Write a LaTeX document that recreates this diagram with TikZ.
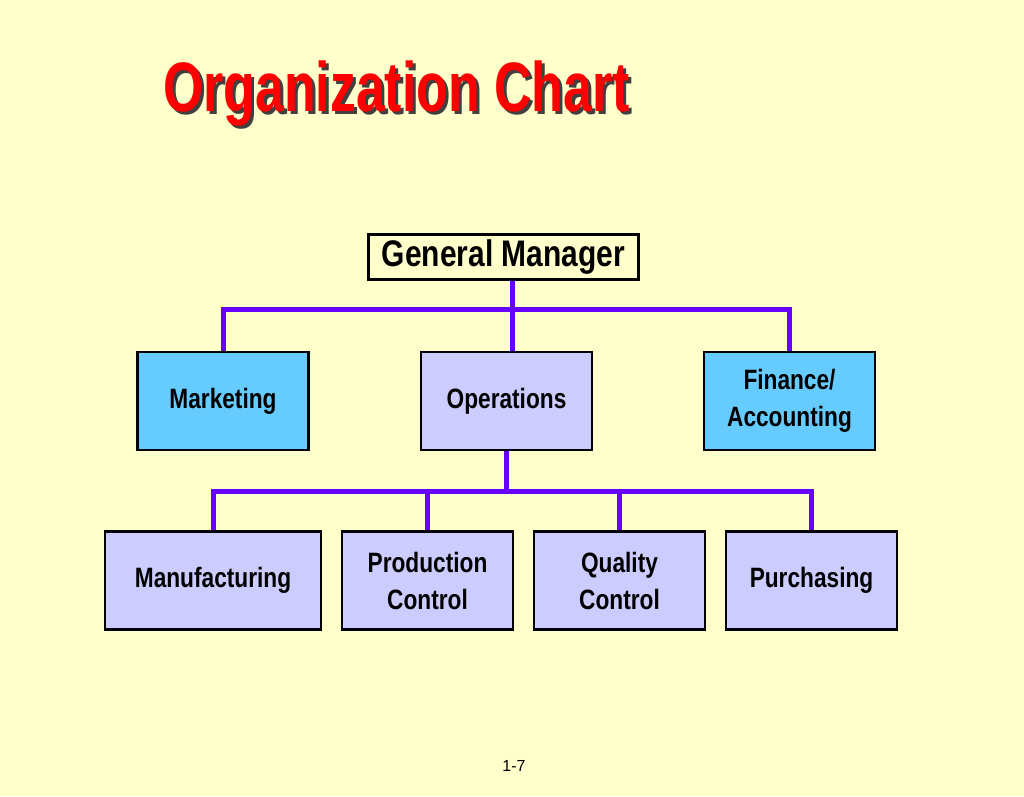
\documentclass[tikz,border=0pt]{standalone}
\usepackage{fontspec}
\setmainfont{Liberation Sans}
\newfontfamily\titlefont{Liberation Sans}[FakeStretch=0.74]
\newfontfamily\narrowfont{Liberation Sans}[FakeStretch=0.81]
\usetikzlibrary{positioning}
\definecolor{slideyellow}{RGB}{255,255,204}
\definecolor{boxpurple}{RGB}{204,204,255}
\definecolor{boxblue}{RGB}{102,204,255}
\definecolor{linkpurple}{RGB}{102,0,255}
\tikzset{
  orgbox/.style={draw=black,line width=2.5pt,fill=boxpurple,minimum width=171pt,minimum height=98pt,
    align=center,font=\narrowfont\fontsize{28}{37}\selectfont\bfseries,inner sep=0pt},
  staffbox/.style={orgbox,fill=boxblue},
  orglink/.style={draw=linkpurple,line width=5pt},
  titletext/.style={anchor=base west,font=\titlefont\fontsize{70}{74}\selectfont\bfseries,inner sep=0pt},
}

\begin{document}
\begin{tikzpicture}[x=1pt,y=-1pt]
        \fill[slideyellow] (0,0) rectangle (1024,796);
        % title
        \node (titleshadow) at (166,114) [titletext,text=black!75] {Organization Chart};
        \node (title) at (163,111) [titletext,text=red] {Organization Chart};
        % top level
        \node (gm) at (503.5,257) [draw=black,line width=3pt,minimum width=270pt,minimum height=45pt,inner sep=0pt,font=\narrowfont\fontsize{37}{40}\selectfont\bfseries] {General Manager};
        \node (mkt) at (223,401) [staffbox] {Marketing};
        \node (ops) at (506.5,401) [orgbox] {Operations};
        \node (fin) at (789.5,401) [staffbox] {Finance/\\Accounting};
        % operations units
        \node (manu) at (213,580.5) [orgbox,minimum width=216pt] {Manufacturing};
        \node (prod) at (427.5,580.5) [orgbox] {Production\\Control};
        \node (qual) at (619.5,580.5) [orgbox] {Quality\\Control};
        \node (purch) at (811.5,580.5) [orgbox] {Purchasing};
        \node (pagenum) at (514,766) [font=\fontsize{16}{18}\selectfont] {1-7};
        \coordinate (topbus) at (512,309);
        \coordinate (lowbus) at (506.5,491);
        \draw [orglink] (gm.south -| topbus)--(ops.north -| topbus);
        \draw [orglink] (mkt.north) |- (topbus) -| (fin.north);
        \draw [orglink] (ops.south)--(lowbus);
        \draw [orglink] (manu.north) |- (lowbus) -| (purch.north);
        \foreach \unit in {prod,qual}
          \draw [orglink] (\unit.north)--(\unit.north |- lowbus);
      \end{tikzpicture}
\end{document}
